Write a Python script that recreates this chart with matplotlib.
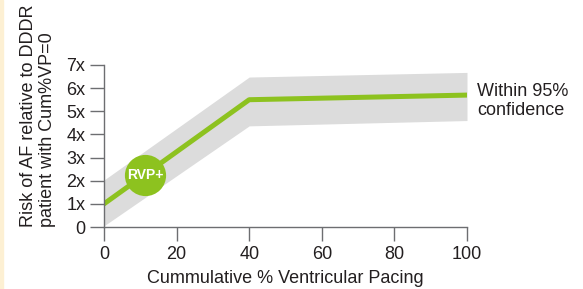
import matplotlib.pyplot as plt
from matplotlib.patches import Rectangle
import matplotlib.transforms as mtransforms

# data
pacing = [0, 40, 100]
risk = [1.0, 5.5, 5.7]
band_x = [0, 40, 100]
band_low = [0.05, 4.37, 4.6]
band_high = [2.03, 6.48, 6.68]
rvp_x, rvp_y = 11.3, 2.25

xticks = [0, 20, 40, 60, 80, 100]
yticks = [0, 1, 2, 3, 4, 5, 6, 7]
ytick_labels = ["0", "1x", "2x", "3x", "4x", "5x", "6x", "7x"]

plt.rcParams["font.family"] = ["Liberation Sans", "DejaVu Sans"]

green = "#8dc21f"
text_col = "#231f20"
axis_col = "#6d6e71"

fig = plt.figure(figsize=(5.83, 2.89), dpi=100)
fig.patches.append(Rectangle((0, 0), 3 / 583, 1, transform=fig.transFigure,
                             color="#fdf0d3", zorder=0))
ax = fig.add_axes([104 / 583, 62 / 289, 363 / 583, 162 / 289])

ax.fill_between(band_x, band_low, band_high, color="#dcdcdc", lw=0, zorder=1)
ax.plot(pacing, risk, color=green, lw=3.6, solid_capstyle="round", zorder=2)
ax.scatter([rvp_x], [rvp_y], s=880, color=green, zorder=3, lw=0)
ax.text(rvp_x, rvp_y, "RVP+", color="white", fontsize=10, fontweight="bold",
        ha="center", va="center", zorder=4)

ax.set_xlim(0, 100)
ax.set_ylim(0, 7)
ax.set_xticks(xticks)
ax.set_yticks(yticks)
ax.set_yticklabels(ytick_labels)

for s in ["top", "right"]:
    ax.spines[s].set_visible(False)
for s in ["left", "bottom"]:
    ax.spines[s].set_color(axis_col)
    ax.spines[s].set_linewidth(1.0)
ax.tick_params(axis="both", direction="out", length=10, width=1.0,
               color=axis_col, labelcolor=text_col, labelsize=13, pad=3.5)

ax.set_xlabel("Cummulative % Ventricular Pacing", fontsize=13, color=text_col,
              labelpad=5)

# y label sits with both lines starting at the x axis
trans = mtransforms.blended_transform_factory(fig.transFigure, ax.transAxes)
ax.text(38 / 583, 0, "Risk of AF relative to DDDR\npatient with Cum%VP=0",
        transform=trans, rotation=90, ha="center", va="bottom",
        multialignment="left", fontsize=13, color=text_col, linespacing=1.2)

ax.text(477 / 583, 1 - 101 / 289, "Within 95%\nconfidence", transform=fig.transFigure,
        fontsize=13, color=text_col, ha="left", va="center", linespacing=1.2)

fig.savefig("out.png", dpi=100)
